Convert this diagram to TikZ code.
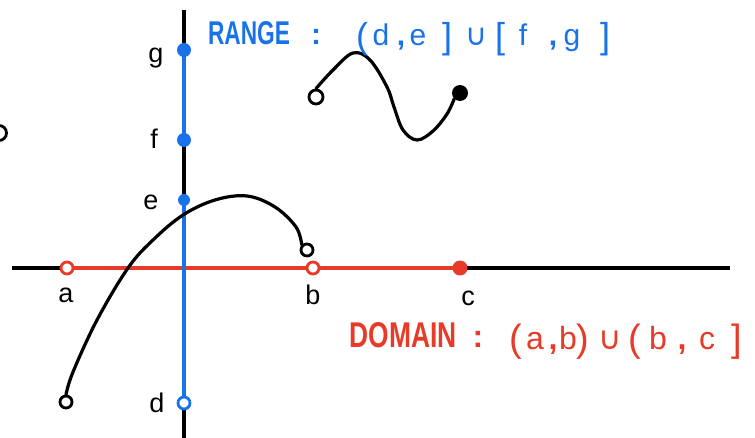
\documentclass[tikz,border=0pt]{standalone}
\usepackage{fontspec}
\setmainfont{Liberation Sans}
\newfontfamily\symfont{DejaVu Sans}
\usepackage{graphicx}
\definecolor{rblue}{RGB}{25,115,232}
\definecolor{rred}{RGB}{232,58,40}
\tikzset{
  axisline/.style={line width=3.2pt},
  fnline/.style={line width=3.2pt, line cap=round, line join=round},
  hollow/.style={circle, draw, line width=2.8pt, fill=white, minimum size=12pt, inner sep=0pt},
  fdot/.style={circle, fill, minimum size=14pt, inner sep=0pt},
  lbl/.style={font=\fontsize{27}{27}\selectfont, inner sep=0pt},
  rtxt/.style={text=rblue, font=\fontsize{30}{30}\selectfont, inner sep=0pt, anchor=base},
  rbr/.style={rtxt, font=\fontsize{36}{36}\selectfont},
  dtxt/.style={text=rred, font=\fontsize{32}{32}\selectfont, inner sep=0pt, anchor=base},
  dbr/.style={dtxt, font=\fontsize{38}{38}\selectfont},
}
\begin{document}
\begin{tikzpicture}[x=1pt, y=-1pt]
\useasboundingbox (0,0) rectangle (755,438);
\clip (0,0) rectangle (755,438);
% axes
\coordinate (xl) at (12,268);
\coordinate (xr) at (730,268);
\coordinate (yt) at (184,10);
\coordinate (yb) at (184,440);
\draw[axisline] (xl) -- (xr);
\draw[axisline] (yt) -- (yb);
% domain points
\coordinate (A) at (67,268);
\coordinate (B) at (313,268);
\coordinate (C) at (460,268);
\draw[axisline, rred] (A) -- (C);
% range points
\coordinate (D) at (184,403);
\coordinate (E) at (184,200);
\coordinate (F) at (184,140);
\coordinate (G) at (184,50);
\draw[axisline, rblue] (D) -- (E);
\draw[axisline, rblue] (F) -- (G);
% markers on axes
\node[hollow, draw=rred] (Ad) at (A) {};
\node[hollow, draw=rred] (Bd) at (B) {};
\node[fdot, fill=rred, minimum size=15pt] (Cd) at (C) {};
\node[hollow, draw=rblue] (Dd) at (D) {};
\node[fdot, fill=rblue, minimum size=12pt] (Ed) at (E) {};
\node[fdot, fill=rblue] (Fd) at (F) {};
\node[fdot, fill=rblue] (Gd) at (G) {};
% axis labels
\node[lbl] (la) at (66,295) {a};
\node[lbl] (lb) at (313,295) {b};
\node[lbl] (lc) at (468,298) {c};
\node[lbl] (ld) at (157,403) {d};
\node[lbl] (le) at (151,202) {e};
\node[lbl] (lf) at (154,139) {f};
\node[lbl] (lg) at (156,58) {g};
% curve 1
\node[hollow] (P1) at (66,402) {};
\node[hollow] (P2) at (307,250) {};
\draw[fnline] plot[smooth, tension=0.6] coordinates {(P1.north) (73,372) (97,320) (128,268) (153,240) (183,215) (215,200) (247,196) (275,207) (296,227) (P2.north west)};
% curve 2
\node[hollow, minimum width=11pt, minimum height=14pt] (Q1) at (316,97) {};
\node[fdot, minimum size=16pt] (Q2) at (460,93) {};
\draw[fnline] plot[smooth, tension=0.6] coordinates {(Q1.north) (333,70) (353,53) (370,60) (387,87) (394,107) (403,130) (417,140) (433,131) (447,114) (Q2.south west)};
% partial circle at the left edge
\node[hollow, minimum width=12pt, minimum height=15pt] (L1) at (-1,133) {};
% range text
\node[rtxt] (rw) at (249,45) {\resizebox{82pt}{23pt}{\bfseries RANGE}};
\node[rtxt] (rc) at (316,45) {\bfseries :};
\node[rbr] (r1) at (362,49) {(};
\node[rtxt] (r2) at (381,46) {d};
\node[rtxt] (r3) at (401,46) {\bfseries ,};
\node[rtxt] (r4) at (418,46) {e};
\node[rbr] (r5) at (447,49) {]};
\node[rtxt] (r6) at (476,46) {\symfont ∪};
\node[rbr] (r7) at (500,49) {[};
\node[rtxt] (r8) at (523,46) {f};
\node[rtxt] (r9) at (553,46) {\bfseries ,};
\node[rtxt] (r10) at (572,46) {g};
\node[rbr] (r11) at (605,49) {]};
% domain text
\node[dtxt] (dw) at (403,347) {\resizebox{107pt}{25pt}{\bfseries DOMAIN}};
\node[dtxt] (dc) at (478,347) {\bfseries :};
\node[dbr] (d1) at (516,351) {(};
\node[dtxt] (d2) at (535,349) {a};
\node[dtxt] (d3) at (553,349) {\bfseries ,};
\node[dtxt] (d4) at (568,349) {b};
\node[dbr] (d5) at (583,351) {)};
\node[dtxt] (d6) at (610,349) {\symfont ∪};
\node[dbr] (d7) at (635,351) {(};
\node[dtxt] (d8) at (658,349) {b};
\node[dtxt] (d9) at (682,349) {\bfseries ,};
\node[dtxt] (d10) at (707,349) {c};
\node[dbr] (d11) at (737,351) {]};
\end{tikzpicture}
\end{document}
